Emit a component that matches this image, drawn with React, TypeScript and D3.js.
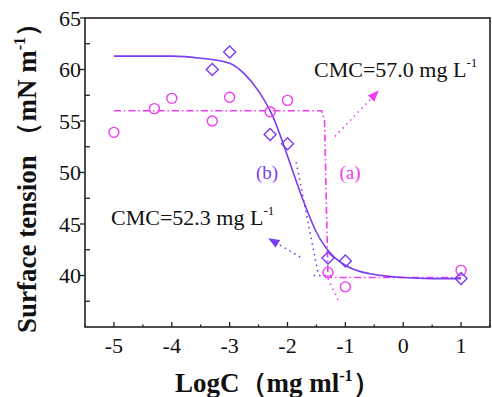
import React from "react";
import * as d3 from "d3";

// ---- data ----
const circleX = [-5, -4.3, -4, -3.3, -3, -2.3, -2, -1.3, -1, 1];
const circleY = [53.9, 56.2, 57.2, 55.0, 57.3, 55.9, 57.0, 40.3, 38.9, 40.5];
const diamondX = [-3.3, -3, -2.3, -2, -1.3, -1, 1];
const diamondY = [60.0, 61.7, 53.7, 52.8, 41.7, 41.4, 39.7];
const fitX = [-5, -4, -3.5, -3, -2.75, -2.5, -2.25, -2, -1.75, -1.5, -1.25, -1, -0.75, -0.5, 0, 0.5, 1];
const fitY = [61.3, 61.3, 61.1, 60.6, 59.6, 57.9, 55.4, 51.6, 47.6, 44.2, 42.1, 41.0, 40.4, 40.1, 39.8, 39.7, 39.7];
const lineAX = [-5, -1.41, -1.36, -1.3];
const lineAY = [56.0, 56.0, 55.0, 39.7];
const lineAExtX = [-1.3, -1.1];
const lineAExtY = [39.7, 37.3];
const baseAX = [-1.35, 1];
const baseAY = [39.8, 39.8];
const tangentBX = [-1.85, -1.47];
const tangentBY = [51.0, 40.2];
const baseBX = [-1.55, -1.2];
const baseBY = [40.0, 40.0];
const arrowAX = [-1.18, -0.45];
const arrowAY = [53.5, 57.8];
const arrowBX = [-1.78, -2.3];
const arrowBY = [41.8, 43.5];
const xTicks = [-5, -4, -3, -2, -1, 0, 1];
const xMinor = [-5.5, -4.5, -3.5, -2.5, -1.5, -0.5, 0.5, 1.5];
const yTicks = [40, 45, 50, 55, 60, 65];
const yMinor = [37.5, 42.5, 47.5, 52.5, 57.5, 62.5];

const MAGENTA = "#f03cf0";
const PURPLE = "#7a3cf0";
const AXIS = "#222";
const FONT = "Liberation Serif, Times New Roman, Times, DejaVu Serif, serif";

export default function App() {
  const W = 492, H = 397;
  const x = d3.scaleLinear().domain([-5.5, 1.5]).range([85, 490]);
  const y = d3.scaleLinear().domain([35, 65]).range([327, 18]);

  const pts = (xs: number[], ys: number[]) => xs.map((v, i) => [x(v), y(ys[i])] as [number, number]);
  const line = d3.line();
  const curve = d3.line().curve(d3.curveMonotoneX);

  const arrow = (xs: number[], ys: number[], color: string, id: string) => {
    const p = pts(xs, ys);
    return (
      <path d={line(p) || ""} stroke={color} strokeWidth={1.6} strokeDasharray="1.5 4" fill="none" markerEnd={`url(#${id})`} />
    );
  };
  const tf = { fontFamily: FONT };

  return (
    <svg width={W} height={H} style={{ position: "absolute", left: 0, top: 0, background: "#fff" }}>
      <defs>
        <marker id="mA" viewBox="0 0 10 10" refX="8" refY="5" markerWidth="7" markerHeight="7" orient="auto">
          <path d="M0,1 L10,5 L0,9 Z" fill={MAGENTA} />
        </marker>
        <marker id="mB" viewBox="0 0 10 10" refX="8" refY="5" markerWidth="7" markerHeight="7" orient="auto">
          <path d="M0,1 L10,5 L0,9 Z" fill={PURPLE} />
        </marker>
      </defs>
      <rect x={0} y={0} width={W} height={H} fill="#fff" />

      {/* frame */}
      <rect x={x(-5.5)} y={y(65)} width={x(1.5) - x(-5.5)} height={y(35) - y(65)} fill="none" stroke={AXIS} strokeWidth={1.6} />

      {/* y ticks */}
      {yTicks.map((t) => (
        <g key={"y" + t}>
          <line x1={x(-5.5) - 5} x2={x(-5.5)} y1={y(t)} y2={y(t)} stroke={AXIS} strokeWidth={1.3} />
          <text x={x(-5.5) - 4} y={y(t)} dy="0.35em" textAnchor="end" style={tf} fontSize={22} fill="#111">{t}</text>
        </g>
      ))}
      {yMinor.map((t) => (
        <line key={"ym" + t} x1={x(-5.5)} x2={x(-5.5) + 5} y1={y(t)} y2={y(t)} stroke={AXIS} strokeWidth={1.3} />
      ))}
      {/* x ticks */}
      {xTicks.map((t) => (
        <g key={"x" + t}>
          <line x1={x(t)} x2={x(t)} y1={y(35)} y2={y(35) - 5} stroke={AXIS} strokeWidth={1.3} />
          <text x={x(t)} y={353} textAnchor="middle" style={tf} fontSize={22} fill="#111">{t}</text>
        </g>
      ))}
      {xMinor.map((t) => (
        <line key={"xm" + t} x1={x(t)} x2={x(t)} y1={y(35)} y2={y(35) - 2.5} stroke={AXIS} strokeWidth={1.3} />
      ))}

      {/* axis titles */}
      <text x={175} y={392} style={tf} fontSize={27} fontWeight="bold" fill="#111">
        LogC（mg ml<tspan fontSize={16} dy={-11}>-1</tspan><tspan dy={11}>）</tspan>
      </text>
      <text transform="translate(36,333) rotate(-90)" style={tf} fontSize={27} fontWeight="bold" fill="#111">
        Surface tension （mN m<tspan fontSize={16} dy={-11}>-1</tspan><tspan dy={11}>）</tspan>
      </text>

      {/* series (a) lines */}
      <path d={line(pts(lineAX, lineAY)) || ""} stroke={MAGENTA} strokeWidth={1.6} strokeDasharray="7 3 1.5 3" fill="none" />
      <path d={line(pts(lineAExtX, lineAExtY)) || ""} stroke={MAGENTA} strokeWidth={1.6} strokeDasharray="1.5 4" fill="none" />
      <path d={line(pts(baseAX, baseAY)) || ""} stroke={MAGENTA} strokeWidth={1.6} strokeDasharray="7 3 1.5 3" fill="none" />

      {/* series (b) lines */}
      <path d={curve(pts(fitX, fitY)) || ""} stroke={PURPLE} strokeWidth={1.6} fill="none" />
      <path d={line(pts(tangentBX, tangentBY)) || ""} stroke={PURPLE} strokeWidth={1.6} strokeDasharray="1.5 4" fill="none" />
      <path d={line(pts(baseBX, baseBY)) || ""} stroke={PURPLE} strokeWidth={1.6} strokeDasharray="1.5 4" fill="none" />

      {/* arrows */}
      {arrow(arrowAX, arrowAY, MAGENTA, "mA")}
      {arrow(arrowBX, arrowBY, PURPLE, "mB")}

      {/* markers */}
      {circleX.map((v, i) => (
        <circle key={"c" + i} cx={x(v)} cy={y(circleY[i])} r={5} fill="none" stroke={MAGENTA} strokeWidth={1.4} />
      ))}
      {diamondX.map((v, i) => {
        const cx = x(v), cy = y(diamondY[i]), s = 6;
        return (
          <path key={"d" + i} d={`M${cx},${cy - s}L${cx + s},${cy}L${cx},${cy + s}L${cx - s},${cy}Z`} fill="none" stroke={PURPLE} strokeWidth={1.4} />
        );
      })}

      {/* labels */}
      <text x={267} y={179} textAnchor="middle" style={tf} fontSize={19} fill={PURPLE}>(b)</text>
      <text x={350} y={179} textAnchor="middle" style={tf} fontSize={19} fill={MAGENTA}>(a)</text>
      <text x={314} y={77} style={tf} fontSize={22} fill="#111">
        CMC=57.0 mg L<tspan fontSize={13} dy={-10}>-1</tspan>
      </text>
      <text x={111} y={225} style={tf} fontSize={22} fill="#111">
        CMC=52.3 mg L<tspan fontSize={13} dy={-10}>-1</tspan>
      </text>
    </svg>
  );
}
